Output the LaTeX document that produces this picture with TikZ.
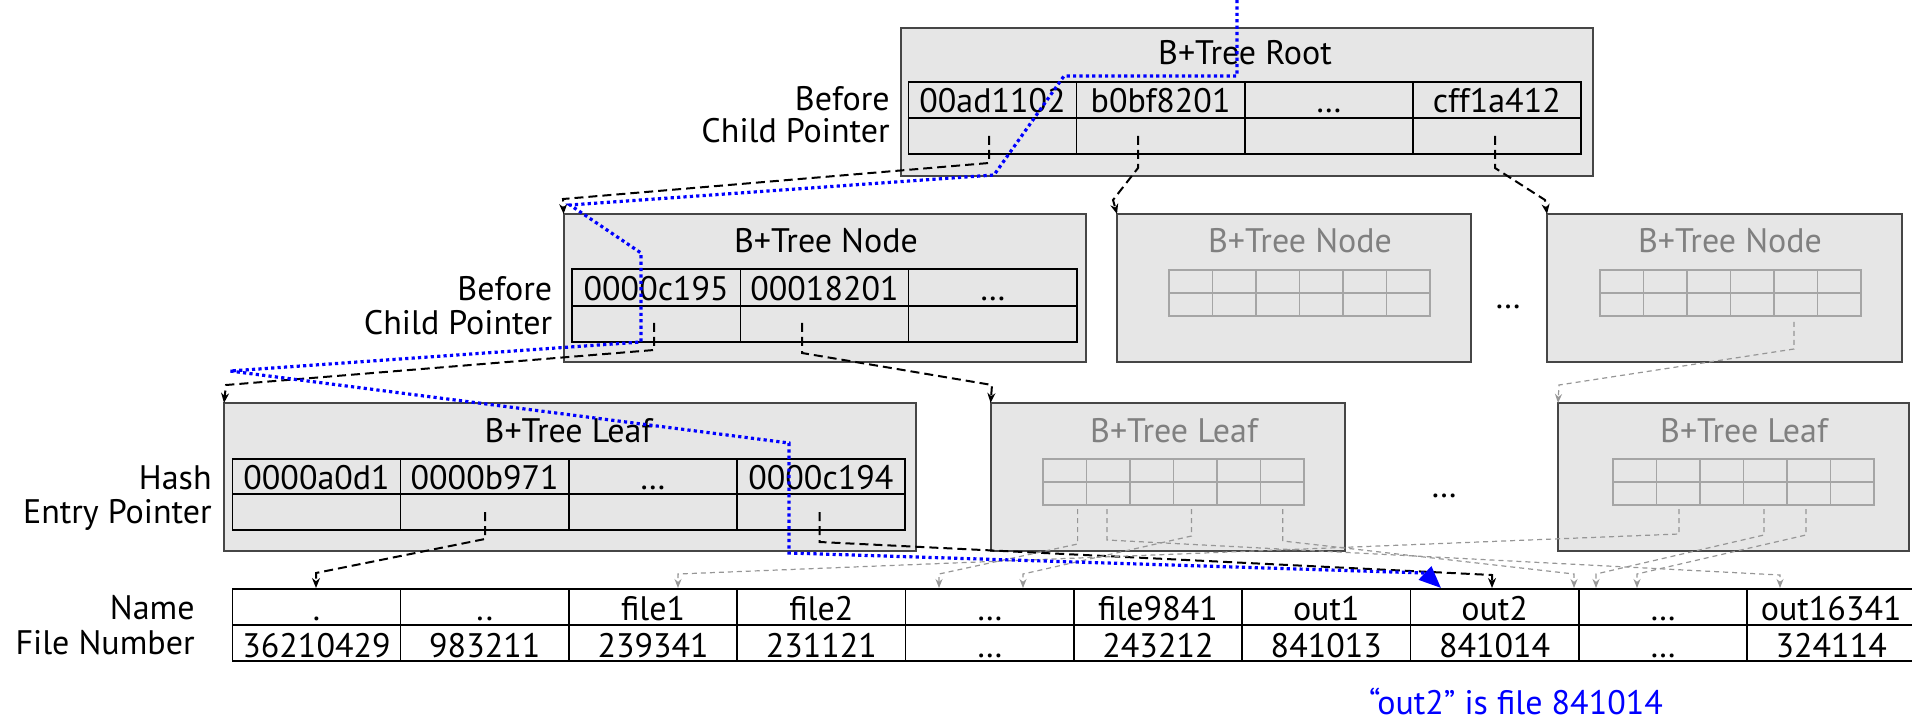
\documentclass[tikz,border=0pt]{standalone}
\usepackage{fontspec}
\setmainfont{PT Sans}
\usetikzlibrary{arrows.meta}
\definecolor{boxfill}{RGB}{230,230,230}
\definecolor{boxline}{RGB}{70,70,70}
\definecolor{ghost}{RGB}{128,128,128}
\definecolor{gridgray}{RGB}{165,165,165}
\definecolor{ptrgray}{RGB}{150,150,150}
\definecolor{walkblue}{RGB}{0,0,255}
\tikzset{
  panel/.style={draw=boxline, fill=boxfill, line width=1pt, anchor=north west,
    inner sep=0pt, outer sep=0pt, minimum height=74pt},
  cellrule/.style={draw=black, line width=0.8pt},
  minigrid/.style={draw=gridgray, line width=0.6pt},
  txt/.style={anchor=base, inner sep=0pt},
  lbl/.style={anchor=base east, inner sep=0pt},
  ghosttxt/.style={txt, text=ghost},
  ptr/.style={draw=black, line width=1pt, dash pattern=on 4.5pt off 2.5pt,
    -{Stealth[length=5pt,width=4pt]}},
  gptr/.style={draw=ptrgray, line width=0.6pt, dash pattern=on 2.5pt off 2pt,
    -{Stealth[length=4.5pt,width=3.5pt]}},
  walk/.style={draw=walkblue, line width=1.6pt, dash pattern=on 1.6pt off 1.6pt,
    -{Triangle[length=11pt,width=9pt,fill=walkblue]}},
}
\begin{document}
\begin{tikzpicture}[x=0.5pt, y=-0.5pt, font=\fontsize{17}{20}\selectfont]
\useasboundingbox (0,0) rectangle (1925,721);

% ---------------- panels ----------------
\node[panel, minimum width=346pt] (root) at (900.7,28) {};
\node[panel, minimum width=261pt] (inner) at (563.6,214) {};
\node[panel, minimum width=346.2pt] (leaf) at (224,403) {};
\node[panel, minimum width=177pt] (gnodeA) at (1117,214) {};
\node[panel, minimum width=177.5pt] (gnodeB) at (1547,214) {};
\node[panel, minimum width=177pt] (gleafA) at (990.6,403) {};
\node[panel, minimum width=175.5pt] (gleafB) at (1558,403) {};

% ---------------- root ----------------
\node[txt] (roottitle) at (1245,65) {B+Tree Root};
\draw[cellrule] (908.5,82) rectangle (1581,154) (908.5,118) -- (1581,118);
\foreach \k in {1,2,3} \draw[cellrule] (908.5+168.1*\k,82) -- (908.5+168.1*\k,154);
\foreach \t [count=\k from 0] in {00ad1102,b0bf8201,…,cff1a412}
  \node[txt] (rk\k) at (992.5+168.1*\k,113) {\t};
\node[lbl] (rootlblA) at (890,111) {Before};
\node[lbl] (rootlblB) at (890,143) {Child Pointer};
\coordinate (rp0) at (989,136);
\coordinate (rp1) at (1138,136);
\coordinate (rp3) at (1495,136);

% ---------------- inner node ----------------
\node[txt] (innertitle) at (826,253) {B+Tree Node};
\draw[cellrule] (572,269) rectangle (1077,342) (572,306) -- (1077,306);
\foreach \k in {1,2} \draw[cellrule] (572+168.3*\k,269) -- (572+168.3*\k,342);
\foreach \t [count=\k from 0] in {0000c195,00018201,…}
  \node[txt] (nk\k) at (656.2+168.3*\k,300) {\t};
\node[lbl] (innerlblA) at (552.5,300) {Before};
\node[lbl] (innerlblB) at (552.5,335) {Child Pointer};
\coordinate (np0) at (654,323);
\coordinate (np1) at (802,323);

% ---------------- leaf ----------------
\node[txt] (leaftitle) at (568.5,442) {B+Tree Leaf};
\draw[cellrule] (232.5,459) rectangle (905,530) (232.5,494) -- (905,494);
\foreach \k in {1,2,3} \draw[cellrule] (232.5+168.1*\k,459) -- (232.5+168.1*\k,530);
\foreach \t [count=\k from 0] in {0000a0d1,0000b971,…,0000c194}
  \node[txt] (lk\k) at (316.6+168.1*\k,489) {\t};
\node[lbl] (leaflblA) at (212,489) {Hash};
\node[lbl] (leaflblB) at (212,523) {Entry Pointer};
\coordinate (lp1) at (485,512);
\coordinate (lp3) at (819.5,512);

% ---------------- ghost nodes and leaves ----------------
\node[ghosttxt] (gnodeAtitle) at (1300,253) {B+Tree Node};
\node[ghosttxt] (gnodeBtitle) at (1730,253) {B+Tree Node};
\node[ghosttxt] (gleafAtitle) at (1174,442) {B+Tree Leaf};
\node[ghosttxt] (gleafBtitle) at (1744,442) {B+Tree Leaf};
\foreach \gx/\gy in {1169/270, 1600/270, 1043/459, 1613/459} {
  \draw[minigrid] (\gx,\gy) rectangle (\gx+261,\gy+46);
  \draw[minigrid, line width=1pt] (\gx,\gy+23) -- (\gx+261,\gy+23);
  \foreach \k in {1,...,5} \draw[minigrid] (\gx+43.5*\k,\gy) -- (\gx+43.5*\k,\gy+46);
}
\node[txt] (gapA) at (1508,308) {…};
\node[txt] (gapB) at (1444,497) {…};
\coordinate (gnp) at (1794,322);
\coordinate (glA0) at (1077.6,509);
\coordinate (glA1) at (1107,509);
\coordinate (glA2) at (1191.5,509);
\coordinate (glA3) at (1282.7,509);
\coordinate (glB0) at (1679,509);
\coordinate (glB1) at (1764,509);
\coordinate (glB2) at (1806,509);

% ---------------- directory entries ----------------
\draw[cellrule] (232.3,589) -- (1912,589) (232.3,625) -- (1912,625) (232.3,661) -- (1912,661);
\foreach \k in {0,...,9} \draw[cellrule] (232.3+168.3*\k,589) -- (232.3+168.3*\k,661);
\foreach \n/\f [count=\k from 0] in {./36210429, ../983211, file1/239341, file2/231121,
    …/…, file9841/243212, out1/841013, out2/841014, …/…, out16341/324114} {
  \node[txt] (name\k) at (316.5+168.3*\k,620) {\n};
  \node[txt] (num\k) at (316.5+168.3*\k,657) {\f};
}
\node[lbl] (namelbl) at (195,619) {Name};
\node[lbl] (numlbl) at (195,654) {File Number};
\foreach \k in {0,...,9} \coordinate (top\k) at (316.5+168.3*\k,589);

% ---------------- child pointers ----------------
\draw[ptr] (rp0) -- (989,163) -- (563,199) -- (inner.north west);
\draw[ptr] (rp1) -- (1138,168) -- (1113,200) -- (gnodeA.north west);
\draw[ptr] (rp3) -- (1495,168) -- (1545,200) -- (gnodeB.north west);
\draw[ptr] (np0) -- (654,350) -- (226,385) -- (leaf.north west);
\draw[ptr] (np1) -- (802,353) -- (992,385) -- (gleafA.north west);
\draw[gptr] (gnp) -- (1794,349) -- (1559,385) -- (gleafB.north west);

% ---------------- entry pointers ----------------
\draw[ptr] (lp1) -- (485,539) -- (316,573) -- (316,588);
\draw[ptr] (lp3) -- (819.5,542) -- (1492,575) -- (1492,588);
\draw[gptr] (glA0) -- (1077.6,544) -- (939,574) -- (939,588);
\draw[gptr] (glA1) -- (1107,540) -- (1780,575) -- (1780,588);
\draw[gptr] (glA2) -- (1191.5,536) -- (1023,574) -- (1023,588);
\draw[gptr] (glA3) -- (1282.7,541) -- (1574,574) -- (1574,588);
\draw[gptr] (glB0) -- (1679,534) -- (678,574) -- (678,588);
\draw[gptr] (glB1) -- (1764,535) -- (1596,574) -- (1596,588);
\draw[gptr] (glB2) -- (1806,535) -- (1637,574) -- (1637,588);

% ---------------- lookup walk ----------------
\coordinate (walkstart) at (1237,0);
\draw[walk] (walkstart) -- (1237,76) -- (1064,76) -- (994,175) -- (570,205)
  -- (641,253) -- (641,342) -- (230,371) -- (789,443) -- (789,553)
  -- (1425,573) -- (1441,588);
\node[txt, text=walkblue] (caption) at (1516,714) {“out2” is file 841014};
\end{tikzpicture}
\end{document}
